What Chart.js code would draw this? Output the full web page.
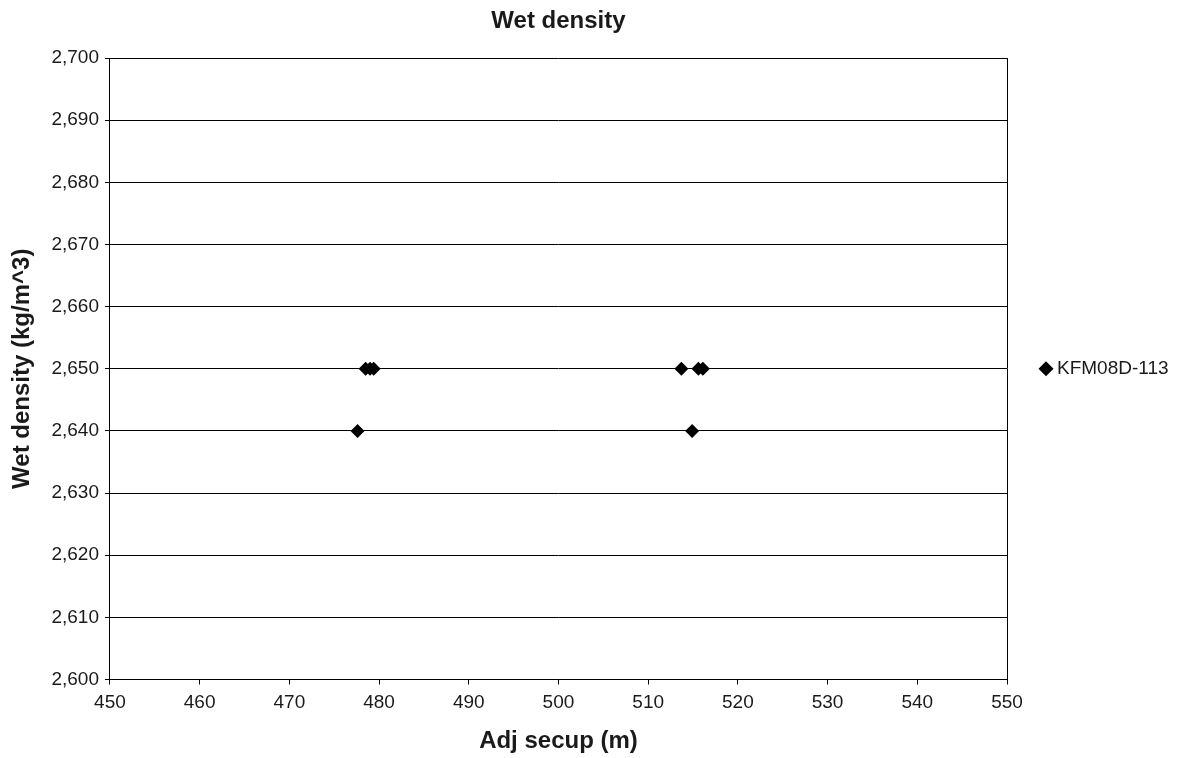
<!DOCTYPE html>
<html>
<head>
<meta charset="utf-8">
<script src="https://cdn.jsdelivr.net/npm/chart.js@4"></script>
<style>
  body { margin: 0; background: #fff; }
  canvas { display: block; }
</style>
</head>
<body>
<canvas id="chart" width="1179" height="758"></canvas>
<script>
const seriesName = 'KFM08D-113';
const secup = [477.6, 478.5, 479.0, 479.4, 513.7, 514.9, 515.6, 516.1];
const wetDensity = [2640, 2650, 2650, 2650, 2650, 2640, 2650, 2650];

const xRange = [450, 550];
const yRange = [2600, 2700];

Chart.defaults.font.family = '"Liberation Sans", Arial, sans-serif';
Chart.defaults.color = '#1a1a1a';

// legend drawn by hand so the diamond and text sit like the original
const sideLegend = {
  id: 'sideLegend',
  afterDraw(chart) {
    const ctx = chart.ctx;
    const area = chart.chartArea;
    const y = (area.top + area.bottom) / 2;
    const x = area.right + 39;
    const r = 7.5;
    ctx.save();
    ctx.fillStyle = '#000';
    ctx.beginPath();
    ctx.moveTo(x - r, y);
    ctx.lineTo(x, y - r);
    ctx.lineTo(x + r, y);
    ctx.lineTo(x, y + r);
    ctx.closePath();
    ctx.fill();
    ctx.font = '19px "Liberation Sans", Arial, sans-serif';
    ctx.fillStyle = '#1a1a1a';
    ctx.textBaseline = 'middle';
    ctx.fillText(chart.data.datasets[0].label, x + 11, y);
    ctx.restore();
  }
};

const points = secup.map((x, i) => ({ x: x, y: wetDensity[i] }));

new Chart(document.getElementById('chart'), {
  type: 'scatter',
  data: {
    datasets: [{
      label: seriesName,
      data: points,
      pointStyle: 'rectRot',
      pointRadius: 7,
      pointHoverRadius: 7,
      backgroundColor: '#000',
      borderColor: '#000',
      borderWidth: 0
    }]
  },
  options: {
    responsive: false,
    animation: false,
    locale: 'en-US',
    layout: { padding: { left: 0, right: 172, top: 0, bottom: 0 } },
    plugins: {
      legend: { display: false },
      tooltip: { enabled: false },
      title: {
        display: true,
        fullSize: false,
        text: 'Wet density',
        font: { size: 24, weight: 'bold' },
        padding: { top: 7, bottom: 22.2 }
      }
    },
    scales: {
      x: {
        type: 'linear',
        min: xRange[0],
        max: xRange[1],
        ticks: { stepSize: 10, font: { size: 19 }, padding: 6.5 },
        grid: {
          color: ctx => ctx.tick && ctx.tick.value === xRange[1] ? '#000' : 'rgba(0,0,0,0)',
          tickColor: '#000',
          tickLength: 5,
          lineWidth: 1
        },
        border: { color: '#000', width: 1 },
        title: {
          display: true,
          text: 'Adj secup (m)',
          font: { size: 24, weight: 'bold' },
          padding: { top: 6.3, bottom: 2.6 }
        }
      },
      y: {
        type: 'linear',
        min: yRange[0],
        max: yRange[1],
        ticks: { stepSize: 10, font: { size: 19 }, padding: 6 },
        grid: { color: '#000', tickColor: '#000', tickLength: 5, lineWidth: 1 },
        border: { color: '#000', width: 1 },
        title: {
          display: true,
          text: 'Wet density (kg/m^3)',
          font: { size: 24, weight: 'bold' },
          padding: { top: 7.6, bottom: 9 }
        }
      }
    }
  },
  plugins: [sideLegend]
});
</script>
</body>
</html>
